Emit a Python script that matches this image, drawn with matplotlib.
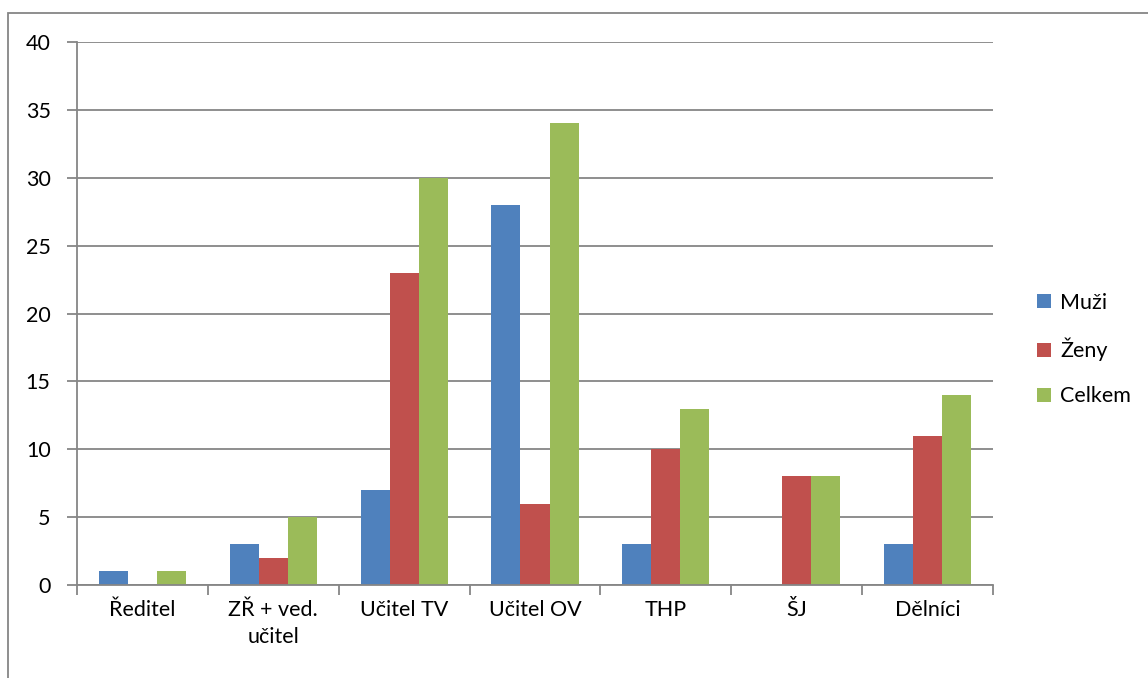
import numpy as np
import matplotlib.pyplot as plt
from matplotlib.patches import Rectangle

categories = ['Ředitel', 'ZŘ + ved.\nučitel', 'Učitel TV', 'Učitel OV', 'THP', 'ŠJ', 'Dělníci']
muzi = [1, 3, 7, 28, 3, 0, 3]
zeny = [0, 2, 23, 6, 10, 8, 11]
celkem = [1, 5, 30, 34, 13, 8, 14]
series_names = ['Muži', 'Ženy', 'Celkem']
colors = ['#4F81BD', '#C0504D', '#9BBB59']

plt.rcParams['font.family'] = ['Lato', 'DejaVu Sans']
grey = '#868686'
fs = 15.5

W, H = 1148, 678
fig = plt.figure(figsize=(W / 100, H / 100), dpi=100)
ax = fig.add_axes([77 / W, 1 - 585 / H, (993 - 77) / W, (585 - 42) / H])

# outer chart border (only top and left are visible in the picture)
fig.patches.append(Rectangle((8 / W, -0.1), 1.2, 1 - 13 / H + 0.1, transform=fig.transFigure,
                             fill=False, edgecolor=grey, linewidth=1.3))

x = np.arange(len(categories))
bw = 1 / 4.5  # gap width 150%
for i, (vals, name) in enumerate(zip([muzi, zeny, celkem], series_names)):
    ax.bar(x + (i - 1) * bw, vals, width=bw, color=colors[i], label=name, zorder=3)

ax.set_xlim(-0.5, len(categories) - 0.5)
ax.set_ylim(0, 40)
ax.set_yticks(np.arange(0, 41, 5))
ax.set_xticks(np.arange(-0.5, len(categories), 1), minor=False)
ax.set_xticklabels([])
ax.set_xticks(x, minor=True)
ax.set_xticklabels(categories, minor=True, fontsize=fs)
ax.tick_params(axis='x', which='minor', length=0, pad=11)
ax.tick_params(axis='x', which='major', length=7, color=grey, width=1.3)
ax.tick_params(axis='y', length=7, color=grey, width=1.3, labelsize=fs, pad=12)
for lab in ax.get_xticklabels(minor=True):
    lab.set_linespacing(1.4)

ax.grid(axis='y', color=grey, linewidth=1.3, zorder=0)
for s in ['top', 'right']:
    ax.spines[s].set_visible(False)
for s in ['left', 'bottom']:
    ax.spines[s].set_color(grey)
    ax.spines[s].set_linewidth(1.3)
    ax.spines[s].set_zorder(4)

ax.legend(loc='upper left', bbox_to_anchor=(1028 / W, 1 - 284 / H), bbox_transform=fig.transFigure,
          frameon=False, fontsize=fs, handlelength=0.65, handleheight=0.65, handletextpad=0.45,
          labelspacing=1.17, borderaxespad=0)

fig.savefig('out.png', dpi=100)
